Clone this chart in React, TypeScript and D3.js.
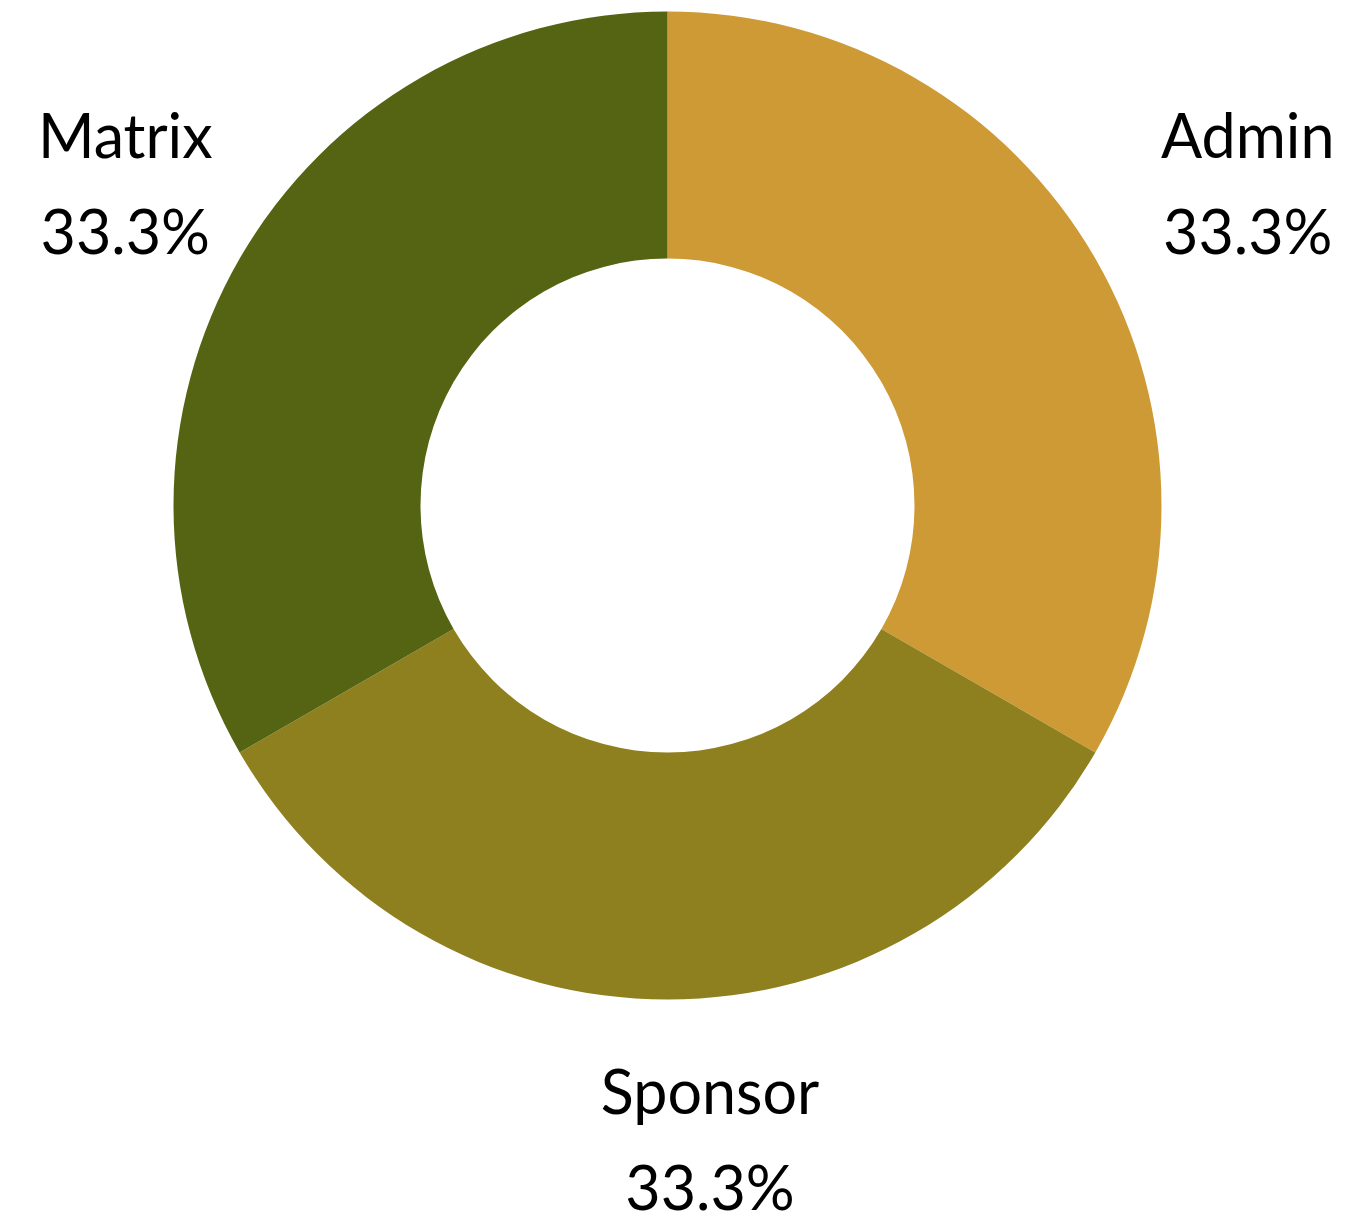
import React from "react";
import * as d3 from "d3";

const categories = ["Admin", "Sponsor", "Matrix"];
const values = [1, 1, 1];
const colors = ["#CD9A35", "#8E801F", "#556413"];

const W = 1356;
const H = 1219;
const cx = 667.5;
const cy = 505.5;
const outerR = 494;
const innerR = 247;

const labelR = 670;

export default function App() {
  const pie = d3.pie<number>().sort(null).value((d) => d)(values);
  const arc = d3.arc<d3.PieArcDatum<number>>().innerRadius(innerR).outerRadius(outerR);
  const total = d3.sum(values);
  const fmt = d3.format(".1%");
  const labelArc = d3.arc<d3.PieArcDatum<number>>().innerRadius(labelR).outerRadius(labelR);

  const labelPos = (i: number, d: d3.PieArcDatum<number>) => {
    const [lx, ly] = labelArc.centroid(d);
    // nudge labels to stay within the frame, as in the reference
    if (categories[i] === "Admin") return [lx, ly - 13];
    if (categories[i] === "Matrix") return [lx + 38, ly - 13];
    return [lx + 42.5, ly - 62];
  };

  return (
    <svg
      width={W}
      height={H}
      style={{ position: "absolute", left: 0, top: 0, background: "#fff" }}
    >
      <g transform={`translate(${cx},${cy})`}>
        {pie.map((d, i) => (
          <path key={categories[i]} d={arc(d) || ""} fill={colors[i]} />
        ))}
        {pie.map((d, i) => {
          const [x, y] = labelPos(i, d);
          return (
            <text
              key={"l" + categories[i]}
              x={x}
              y={y}
              textAnchor="middle"
              fontFamily="Lato, 'Open Sans', sans-serif"
              fontSize={61}
              fill="#000"
            >
              <tspan x={x} dy={0}>{categories[i]}</tspan>
              <tspan x={x} dy={96}>{fmt(values[i] / total)}</tspan>
            </text>
          );
        })}
      </g>
    </svg>
  );
}
